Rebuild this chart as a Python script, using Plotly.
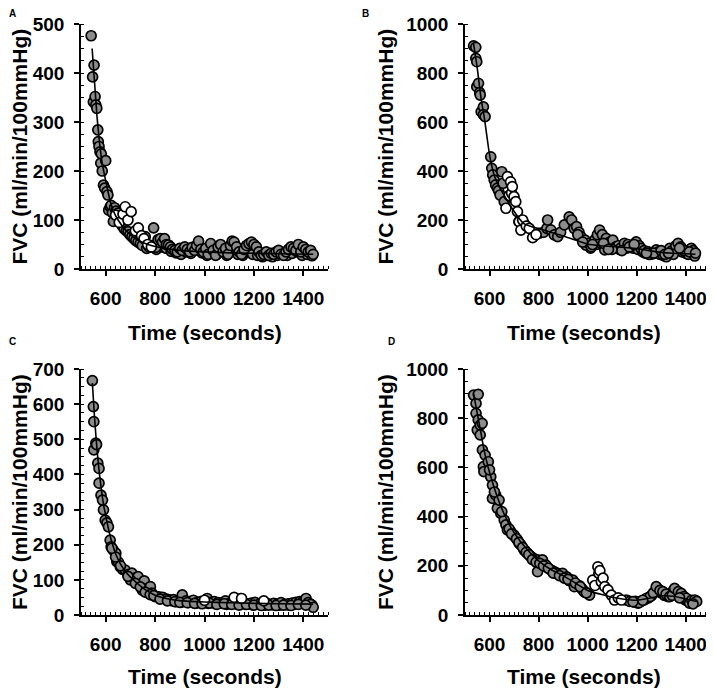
import plotly.graph_objects as go

# ---------------- Panel A ----------------
A_gray_t = [541, 547, 550, 553, 557, 560, 564, 568, 570, 573,
            577, 580, 582, 586, 591, 596, 600, 605, 609, 612,
            618, 622, 627, 631, 636, 642, 650, 655, 660, 667,
            675, 684, 691, 698, 706, 714, 722, 731, 740, 748,
            760, 766, 775, 785, 794, 803, 812, 821, 830, 838,
            846, 854, 862, 870, 880, 890, 900, 910, 920, 930,
            940, 950, 960, 968, 976, 985, 995, 1005, 1015, 1025,
            1035, 1045, 1055, 1065, 1075, 1085, 1095, 1105, 1112, 1120,
            1130, 1140, 1150, 1160, 1170, 1180, 1190, 1200, 1210, 1220,
            1230, 1240, 1250, 1260, 1270, 1280, 1290, 1300, 1310, 1320,
            1330, 1340, 1350, 1360, 1370, 1380, 1390, 1400, 1410, 1420,
            1430, 1440]
A_gray_v = [476, 392, 341, 416, 352, 335, 328, 284, 260, 250,
            239, 216, 235, 200, 171, 165, 221, 158, 151, 120,
            127, 130, 115, 97, 125, 118, 114, 105, 95, 88,
            82, 78, 76, 70, 66, 62, 58, 55, 52, 48,
            66, 42, 45, 48, 84, 44, 60, 62, 55, 62,
            50, 49, 45, 40, 38, 35, 42, 38, 45, 40,
            35, 44, 38, 48, 57, 40, 35, 42, 30, 52,
            38, 28, 45, 50, 35, 42, 30, 48, 57, 55,
            45, 35, 30, 40, 48, 52, 55, 50, 45, 35,
            28, 30, 35, 28, 32, 30, 35, 38, 30, 28,
            35, 40, 45, 42, 38, 50, 35, 45, 40, 35,
            38, 30]
A_tail_t = [805, 825, 845, 865, 885, 905, 925, 945, 965, 990,
            1010, 1030, 1050, 1070, 1090, 1110, 1135, 1155, 1175, 1195,
            1215, 1235, 1255, 1275, 1295, 1315, 1335, 1355, 1375, 1395,
            1415, 1435]
A_tail_v = [40, 45, 42, 36, 33, 30, 35, 32, 40, 33,
            28, 35, 30, 38, 28, 35, 30, 28, 35, 30,
            28, 25, 28, 25, 28, 30, 28, 32, 35, 28,
            30, 27]
A_white_t = [640, 655, 670, 679, 690, 703, 720, 732, 745, 755, 770, 785]
A_white_v = [110, 95, 112, 127, 100, 117, 78, 84, 68, 62, 50, 45]
A_fit_t = [545, 555, 565, 575, 585, 600, 615, 630, 650, 680, 720, 760, 800, 850, 900, 1000, 1100, 1200, 1300, 1440]
A_fit_v = [450, 380, 310, 258, 218, 180, 145, 120, 100, 80, 62, 52, 46, 41, 38, 35, 33, 32, 31, 30]

# ---------------- Panel B ----------------
B_gray_t = [535, 544, 544, 548, 548, 555, 560, 562, 566, 575,
            575, 582, 605, 609, 613, 619, 625, 632, 637, 643,
            650, 655, 660, 720, 741, 803, 820, 834, 837, 850,
            864, 878, 890, 905, 925, 935, 945, 955, 965, 973,
            990, 993, 1005, 1015, 1030, 1040, 1049, 1060, 1070, 1076,
            1090, 1103, 1115, 1125, 1135, 1150, 1165, 1180, 1198, 1210,
            1218, 1230, 1245, 1260, 1280, 1290, 1305, 1321, 1335, 1345,
            1360, 1369, 1380, 1389, 1400, 1410, 1423, 1430, 1437,
            1100, 1140, 1170, 1190, 1250, 1270, 1300, 1315, 1350, 1395,
            1415, 1440, 960, 980, 1020, 1065, 1085, 1240, 1330, 1375]
B_gray_v = [911, 905, 860, 846, 744, 758, 720, 710, 642, 662,
            630, 622, 458, 411, 384, 363, 343, 330, 320, 302,
            397, 350, 275, 193, 186, 146, 150, 166, 200, 160,
            139, 132, 150, 180, 213, 200, 166, 173, 150, 132,
            118, 98, 105, 91, 120, 140, 159, 140, 78, 125,
            110, 118, 90, 95, 85, 105, 100, 95, 111, 95,
            84, 75, 71, 65, 78, 70, 60, 50, 84, 75,
            95, 105, 90, 78, 65, 60, 84, 75, 53,
            80, 75, 90, 100, 60, 65, 75, 60, 60, 75,
            70, 65, 140, 110, 100, 105, 80, 65, 65, 85]
B_tail_t = [1002, 1012, 1025, 1035, 1045, 1055, 1080, 1095, 1108, 1120,
            1130, 1145, 1160, 1175, 1185, 1205, 1225, 1235, 1255, 1265,
            1285, 1295, 1310, 1325, 1340, 1355, 1365, 1385, 1405, 1420,
            1435]
B_tail_v = [95, 85, 110, 100, 120, 105, 95, 85, 100, 90,
            80, 95, 85, 90, 85, 80, 70, 65, 60, 62,
            70, 60, 55, 60, 70, 80, 90, 70, 70, 65,
            60]
B_white_t = [667, 673, 680, 686, 690, 693, 700, 707, 714, 721, 728, 735, 750, 762, 776, 790]
B_white_v = [248, 377, 300, 356, 310, 336, 295, 275, 234, 193, 159, 200, 175, 166, 128, 140]
B_fit_t = [535, 550, 565, 580, 595, 605, 620, 640, 660, 690, 740, 800, 850, 900, 950, 1000,
           1050, 1100, 1150, 1200, 1250, 1300, 1350, 1400, 1440]
B_fit_v = [920, 820, 700, 610, 500, 440, 380, 335, 300, 250, 185, 165, 150, 135, 118, 102,
           95, 92, 88, 84, 75, 68, 64, 62, 60]

# ---------------- Panel C ----------------
C_gray_t = [546, 550, 552, 552, 560, 563, 568, 573, 573, 581,
            587, 591, 598, 605, 611, 618, 622, 630, 641, 645,
            652, 659, 668, 679, 690, 706, 718, 731, 748, 756,
            768, 781, 787, 800, 815, 830, 845, 860, 875, 890,
            910, 925, 940, 955, 970, 985, 1000, 1011, 1025, 1040,
            1055, 1070, 1085, 1100, 1115, 1130, 1147, 1160, 1175, 1190,
            1205, 1220, 1235, 1250, 1265, 1280, 1295, 1310, 1325, 1340,
            1355, 1370, 1385, 1400, 1411, 1420, 1430, 1440,
            700, 720, 740, 760, 780, 690, 660, 640, 625, 795,
            820, 850, 880, 900, 930, 960, 990, 1020, 1050, 1080,
            1110, 1140, 1170, 1200, 1230, 1260, 1290, 1320, 1350, 1380, 1410]
C_gray_v = [667, 593, 550, 470, 489, 485, 432, 417, 375, 341,
            327, 299, 270, 262, 251, 213, 194, 185, 176, 152,
            150, 137, 130, 128, 115, 119, 105, 109, 71, 97,
            75, 81, 62, 52, 52, 50, 45, 42, 44, 40,
            57, 40, 38, 42, 35, 38, 40, 47, 36, 38,
            35, 34, 40, 33, 36, 38, 47, 35, 32, 34,
            36, 30, 32, 34, 30, 33, 31, 35, 30, 32,
            34, 36, 38, 40, 47, 35, 30, 22,
            100, 90, 80, 65, 58, 110, 140, 165, 190, 55,
            45, 40, 38, 36, 35, 33, 32, 34, 30, 32,
            30, 28, 30, 28, 27, 28, 27, 28, 27, 30, 28]
C_tail_t = [835, 855, 870, 885, 905, 920, 935, 950, 965, 980,
            995, 1015, 1030, 1045, 1060, 1075, 1090, 1105, 1125, 1135,
            1155, 1165, 1185, 1195, 1215, 1225, 1245, 1255, 1275, 1285,
            1305, 1315, 1335, 1345, 1365, 1375, 1395, 1405, 1425, 1435]
C_tail_v = [48, 44, 40, 38, 36, 40, 35, 37, 34, 36,
            35, 33, 36, 32, 34, 33, 30, 34, 32, 31,
            33, 30, 32, 29, 31, 30, 28, 31, 29, 30,
            28, 31, 29, 32, 30, 33, 35, 38, 32, 28]
C_white_t = [1000, 1120, 1150, 1240]
C_white_v = [42, 50, 47, 40]
C_fit_t = [546, 555, 565, 575, 590, 605, 620, 640, 660, 690, 720, 760, 800, 850, 900, 1000, 1100, 1200, 1300, 1440]
C_fit_v = [660, 560, 470, 400, 320, 265, 220, 175, 145, 115, 95, 72, 56, 46, 41, 37, 35, 33, 32, 31]

# ---------------- Panel D ----------------
D_gray_t = [535, 545, 545, 550, 554, 554, 562, 562, 570, 571,
            575, 577, 582, 595, 605, 612, 612, 625, 632, 639,
            646, 660, 667, 673, 687, 700, 714, 728, 741, 755,
            769, 780, 796, 796, 816, 830, 850, 865, 878, 898,
            915, 932, 940, 946, 965, 981, 986, 1008, 1240, 1255,
            1268, 1280, 1295, 1307, 1320, 1335, 1345, 1355, 1370, 1382,
            1393, 1403, 1416, 1425, 1437, 1445,
            600, 620, 650, 680, 690, 710, 720, 735, 750, 760,
            775, 790, 805, 820, 840, 860, 885, 905, 920, 950,
            970, 995, 1195, 1210, 1225, 1375, 1430, 1158, 1172, 1185]
D_gray_v = [894, 860, 820, 752, 897, 793, 772, 732, 779, 671,
            603, 583, 650, 623, 562, 528, 474, 488, 434, 467,
            413, 386, 366, 346, 339, 325, 305, 285, 264, 251,
            237, 230, 224, 176, 224, 203, 183, 175, 169, 169,
            155, 142, 142, 115, 120, 102, 95, 81, 68, 75,
            90, 115, 100, 95, 85, 75, 80, 108, 95, 88,
            75, 68, 48, 60, 61, 55,
            590, 500, 420, 350, 330, 310, 295, 275, 255, 245,
            225, 215, 210, 200, 190, 170, 160, 150, 145, 130,
            115, 90, 55, 50, 60, 70, 45, 61, 55, 54]
D_tail_t = [1190, 1205, 1218, 1232, 1248, 1262, 1275, 1288, 1300, 1313,
            1328, 1340, 1350, 1362, 1378, 1388, 1398, 1410, 1420, 1440,
            702, 722, 745, 765, 785, 810, 835, 855, 875, 890,
            910, 925, 960, 975, 990]
D_tail_v = [52, 48, 55, 62, 70, 80, 95, 105, 90, 80,
            75, 88, 100, 90, 75, 70, 62, 55, 50, 58,
            320, 290, 262, 240, 222, 205, 195, 180, 168, 162,
            150, 140, 118, 108, 92]
D_white_t = [1021, 1030, 1042, 1046, 1050, 1056, 1063, 1070, 1083, 1097, 1110, 1125, 1138]
D_white_v = [142, 120, 196, 169, 180, 135, 150, 115, 102, 81, 61, 70, 61]
D_fit_t = [535, 550, 565, 580, 600, 630, 660, 700, 750, 800, 850, 900, 950, 1000, 1050, 1100,
           1150, 1200, 1250, 1300, 1350, 1400, 1445]
D_fit_v = [900, 820, 740, 660, 580, 485, 410, 335, 270, 220, 185, 160, 130, 100, 85, 72,
           64, 60, 68, 78, 76, 65, 55]

x_ticks = [600, 800, 1000, 1200, 1400]
y_title = "FVC (ml/min/100mmHg)"
x_title = "Time (seconds)"

# The page body has an 8px margin at its top-left: the figure starts 8px in
# from the window corner and runs to the right/bottom edge of the window.
OFF = 8
W, H = 714 - OFF, 691 - OFF
FONT = "Liberation Sans, Arial, sans-serif"


def fx(px):
    return min(max((px - OFF) / W, 0.0), 1.0)


def fy(py):
    return min(max(1 - (py - OFF) / H, 0.0), 1.0)


panels = [
    dict(letter="A", gt=A_tail_t + A_gray_t, gv=A_tail_v + A_gray_v, wt=A_white_t, wv=A_white_v,
         ft=A_fit_t, fv=A_fit_v,
         px=(81, 328), py=(24, 269), xr=[500, 1500], yr=[0, 500], ydt=100,
         lab=(12, 13), ytx=19, xtx=205, ty=332),
    dict(letter="B", gt=B_tail_t + B_gray_t, gv=B_tail_v + B_gray_v, wt=B_white_t, wv=B_white_v,
         ft=B_fit_t, fv=B_fit_v,
         px=(465, 707), py=(24, 269), xr=[500, 1487], yr=[0, 1000], ydt=200,
         lab=(366, 13), ytx=385, xtx=584, ty=332),
    dict(letter="C", gt=C_tail_t + C_gray_t, gv=C_tail_v + C_gray_v, wt=C_white_t, wv=C_white_v,
         ft=C_fit_t, fv=C_fit_v,
         px=(81, 328), py=(369, 615), xr=[500, 1500], yr=[0, 700], ydt=100,
         lab=(12, 342), ytx=19, xtx=205, ty=676),
    dict(letter="D", gt=D_tail_t + D_gray_t, gv=D_tail_v + D_gray_v, wt=D_white_t, wv=D_white_v,
         ft=D_fit_t, fv=D_fit_v,
         px=(465, 707), py=(369, 615), xr=[500, 1487], yr=[0, 1000], ydt=200,
         lab=(391, 342), ytx=385, xtx=584, ty=676),
]

fig = go.Figure()
annotations = []
layout_axes = {}

for i, p in enumerate(panels):
    n = "" if i == 0 else str(i + 1)
    xa, ya = "x" + n, "y" + n
    fig.add_trace(go.Scatter(x=p["gt"], y=p["gv"], xaxis=xa, yaxis=ya, mode="markers",
                             marker=dict(size=10, color="#8c8c8c", line=dict(color="black", width=1.7)),
                             showlegend=False, cliponaxis=False))
    fig.add_trace(go.Scatter(x=p["wt"], y=p["wv"], xaxis=xa, yaxis=ya, mode="markers",
                             marker=dict(size=10, color="white", line=dict(color="black", width=1.7)),
                             showlegend=False, cliponaxis=False))
    fig.add_trace(go.Scatter(x=p["ft"], y=p["fv"], xaxis=xa, yaxis=ya, mode="lines",
                             line=dict(color="black", width=1.6, shape="spline", smoothing=0.6),
                             showlegend=False))
    tickfont = dict(family=FONT, size=19, color="black", weight="bold")
    layout_axes["xaxis" + n] = dict(
        domain=[fx(p["px"][0]), fx(p["px"][1])], range=p["xr"], anchor=ya, automargin=False,
        showline=True, linecolor="black", linewidth=1.5, showgrid=False, zeroline=False,
        tickmode="array", tickvals=x_ticks, ticks="outside", ticklen=5, tickwidth=1.5, tickcolor="black",
        minor=dict(ticks="inside", tick0=500, dtick=20, ticklen=3, tickwidth=1, tickcolor="black"),
        tickfont=tickfont, ticklabelstandoff=6, ticklabeloverflow="allow", fixedrange=True)
    layout_axes["yaxis" + n] = dict(
        domain=[fy(p["py"][1]), fy(p["py"][0])], range=p["yr"], anchor=xa, automargin=False,
        showline=True, linecolor="black", linewidth=1.5, showgrid=False, zeroline=False,
        tick0=0, dtick=p["ydt"], ticks="outside", ticklen=5, tickwidth=1.5, tickcolor="black",
        minor=dict(ticks="inside", tick0=0, dtick=p["ydt"] / 4, ticklen=3, tickwidth=1, tickcolor="black"),
        tickfont=tickfont, ticklabelstandoff=6, ticklabeloverflow="allow", fixedrange=True)
    annotations.append(dict(text=p["letter"], x=fx(p["lab"][0]), y=fy(p["lab"][1]),
                            xref="paper", yref="paper", showarrow=False, xanchor="center", yanchor="middle",
                            font=dict(family=FONT, size=10, color="black", weight="bold")))
    annotations.append(dict(text=y_title, x=fx(p["ytx"]), y=fy((p["py"][0] + p["py"][1]) / 2),
                            xref="paper", yref="paper", showarrow=False, textangle=-90,
                            xanchor="center", yanchor="middle",
                            font=dict(family=FONT, size=21, color="black", weight="bold")))
    annotations.append(dict(text=x_title, x=fx(p["xtx"]), y=fy(p["ty"]),
                            xref="paper", yref="paper", showarrow=False,
                            xanchor="center", yanchor="middle",
                            font=dict(family=FONT, size=21, color="black", weight="bold")))

fig.update_layout(width=W, height=H, margin=dict(l=0, r=0, t=0, b=0, autoexpand=False),
                  paper_bgcolor="white", plot_bgcolor="white",
                  annotations=annotations, **layout_axes)

fig.write_html("out.html")
